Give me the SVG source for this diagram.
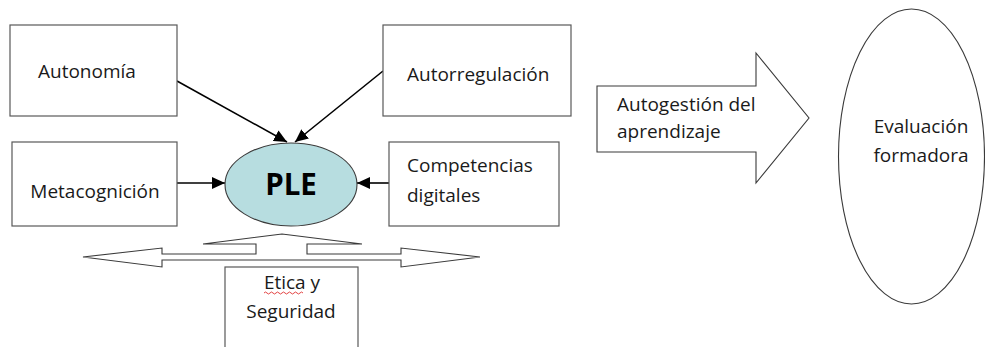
<svg xmlns="http://www.w3.org/2000/svg" width="985" height="347" viewBox="0 0 985 347">
<style>
.box{fill:#fff;stroke:#595959;stroke-width:1.2}
.t{font-family:"Open Sans","Liberation Sans",sans-serif;font-size:19px;fill:#1a1a1a}
.c{text-anchor:middle}
.ln{stroke:#000;stroke-width:1.6;fill:none}
.shape{fill:#fff;stroke:#3a3a3a;stroke-width:1.1}
</style>
<defs>
<marker id="ah" markerUnits="userSpaceOnUse" markerWidth="14" markerHeight="12" refX="13" refY="6" orient="auto">
<path d="M0,0 L13,6 L0,12 Z" fill="#000"/>
</marker>
</defs>
<rect width="985" height="347" fill="#fff"/>
<g id="connectors">
<line class="ln" x1="177" y1="81" x2="287" y2="142" marker-end="url(#ah)"/>
<line class="ln" x1="383" y1="71" x2="295" y2="142" marker-end="url(#ah)"/>
<line class="ln" x1="177" y1="183" x2="225" y2="183" marker-end="url(#ah)"/>
<line class="ln" x1="389" y1="183" x2="357" y2="183" marker-end="url(#ah)"/>
</g>
<g id="autonomia">
<rect class="box" x="10" y="25" width="167" height="91"/>
<text class="t" x="38" y="78">Autonomía</text>
</g>
<g id="autorregulacion">
<rect class="box" x="383" y="25" width="188" height="91"/>
<text class="t" x="407" y="81">Autorregulación</text>
</g>
<g id="metacognicion">
<rect class="box" x="12" y="142" width="165" height="84"/>
<text class="t c" x="95" y="198">Metacognición</text>
</g>
<g id="competencias">
<rect class="box" x="389" y="142" width="170" height="84"/>
<text class="t" x="407" y="172">Competencias</text>
<text class="t" x="407" y="202">digitales</text>
</g>
<g id="ple">
<ellipse cx="291" cy="184.5" rx="66" ry="41.5" fill="#b7dde0" stroke="#3a3a3a" stroke-width="1.1"/>
<text x="291" y="195" text-anchor="middle" font-family="'Open Sans','Liberation Sans',sans-serif" font-weight="bold" font-size="29.5" fill="#000">PLE</text>
</g>
<g id="double-arrow">
<path class="shape" d="M83,257 L162,248 L162,254 L256,254 L256,244 L203,244 L282,234 L362,244 L307,244 L307,254 L401,254 L401,248 L480,257 L401,267 L401,260 L162,260 L162,267 Z"/>
</g>
<g id="etica">
<rect class="box" x="225" y="267" width="133" height="95"/>
<text class="t c" x="292" y="289">Etica y</text>
<path d="M264,293 q1.5,-2 3,0 t3,0 t3,0 t3,0 t3,0 t3,0 t3,0 t3,0 t3,0 t3,0 t3,0 t3,0 t3,0" fill="none" stroke="#e03030" stroke-width="0.9"/>
<text class="t c" x="291" y="318">Seguridad</text>
</g>
<g id="autogestion">
<path class="shape" d="M597,86 L756,86 L756,53 L809,118 L756,183 L756,152 L597,152 Z"/>
<text class="t" x="617" y="111">Autogestión del</text>
<text class="t" x="617" y="138">aprendizaje</text>
</g>
<g id="evaluacion">
<ellipse cx="911.5" cy="156.5" rx="73" ry="147.5" fill="#fff" stroke="#3a3a3a" stroke-width="1.1"/>
<text class="t c" x="921" y="133">Evaluación</text>
<text class="t c" x="921" y="162">formadora</text>
</g>
</svg>
